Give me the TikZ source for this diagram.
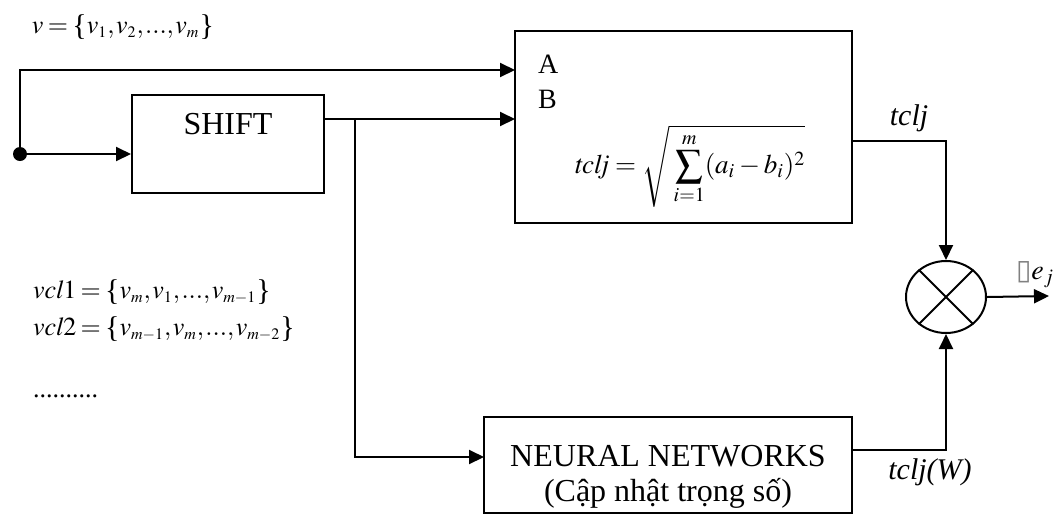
\documentclass[tikz,border=0pt]{standalone}
\usepackage{mathptmx}
\usepackage[no-math]{fontspec}
\setmainfont{Liberation Serif}
\newfontfamily\symfont{DejaVu Sans}
\DeclareMathSizes{13}{13}{8}{6}
\newcommand\lbrc{\mathopen{\raisebox{-0.8pt}{\fontsize{15}{15}\selectfont\{}}}
\newcommand\rbrc{\mathclose{\raisebox{-0.8pt}{\fontsize{15}{15}\selectfont\}}}}
\usetikzlibrary{arrows.meta,shapes.geometric}
\begin{document}
\begin{tikzpicture}[x=0.5pt,y=-0.5pt,
  line width=1pt,
  boxst/.style={draw, rectangle, inner sep=0pt, line width=1pt},
  arr/.style={-{Triangle[length=7.5pt,width=7pt]}},
  big/.style={font=\fontsize{16}{17.5}\selectfont},
  mid/.style={font=\fontsize{14}{16}\selectfont},
  lbl/.style={font=\fontsize{15}{17}\selectfont\itshape},
  tight/.style={font=\fontsize{13}{13}\selectfont,
    execute at begin node={\thinmuskip=1mu\medmuskip=1.5mu\thickmuskip=3mu}},
]
\useasboundingbox (0,0) rectangle (1060,515);

% blocks
\node[circle, fill, inner sep=0pt, minimum size=7pt] (dot) at (20,154) {};
\node[boxst, minimum width=96pt, minimum height=49pt] (shift) at (228,144) {};
\node[big, anchor=base] (shifttxt) at (228,134) {SHIFT};

\node[boxst, minimum width=168.5pt, minimum height=96pt] (dist) at (683.5,127) {};
\node[mid, anchor=base west, inner sep=0pt] (la) at (537,73) {A};
\node[mid, anchor=base west, inner sep=0pt] (lb) at (537,108) {B};
\node[font=\fontsize{13.5}{16}\selectfont] (fml) at (690,166) {$\displaystyle \mathit{tclj}=\sqrt{\mkern3mu\sum_{i=1}^{m}(a_i-b_i)^2}$};

\node[boxst, minimum width=184pt, minimum height=48pt] (nn) at (668,465) {};
\node[big, align=center] (nntxt) at (668,477) {NEURAL NETWORKS\\(Cập nhật trọng số)};

\node[ellipse, draw, minimum width=40pt, minimum height=36pt, inner sep=0pt] (mult) at (946,297) {};
\draw (mult.45) -- (mult.225) (mult.135) -- (mult.315);

% connector end points
\coordinate (ain) at (515,70);
\coordinate (bin) at (515,119);
\coordinate (br) at (355,119);
\coordinate (nnin) at (484,457);
\coordinate (tout) at (852,141);
\coordinate (wout) at (852,450);
\coordinate (out) at (1049,296);

% connectors
\draw[arr] (dot.center) |- (ain);
\draw[arr] (dot.center) -- (dot.center -| shift.west);
\draw[arr] (shift.east |- bin) -- (bin);
\draw[arr] (br) |- (nnin);
\draw[arr] (tout) -| (mult.north);
\draw[arr] (wout) -| (mult.south);
\draw[arr] (mult.east) -- (out);

% labels
\node[lbl, anchor=base] (ltclj) at (909,125) {tclj};
\node[lbl, anchor=base] (ltcljw) at (930,479) {tclj(W)};
\node[font=\fontsize{14}{16}\selectfont, anchor=base west, inner sep=0pt] (lout) at (1015,279) {{\symfont\color{gray}▯}$e_j$};

\node[tight, anchor=west, inner sep=0pt] (fv) at (31,27) {$v=\lbrc v_1,v_2,{.}{.}{.},v_m\rbrc$};
\node[tight, anchor=west, inner sep=0pt] (fv1) at (32,292) {$\mathit{vcl}1=\lbrc v_m,v_1,{.}{.}{.},v_{m-1}\rbrc$};
\node[tight, anchor=west, inner sep=0pt] (fv2) at (32,329) {$\mathit{vcl}2=\lbrc v_{m-1},v_m,{.}{.}{.},v_{m-2}\rbrc$};
\node[font=\fontsize{13}{15}\selectfont, anchor=base west, inner sep=0pt] (fdots) at (32,397) {..........};
\end{tikzpicture}
\end{document}
